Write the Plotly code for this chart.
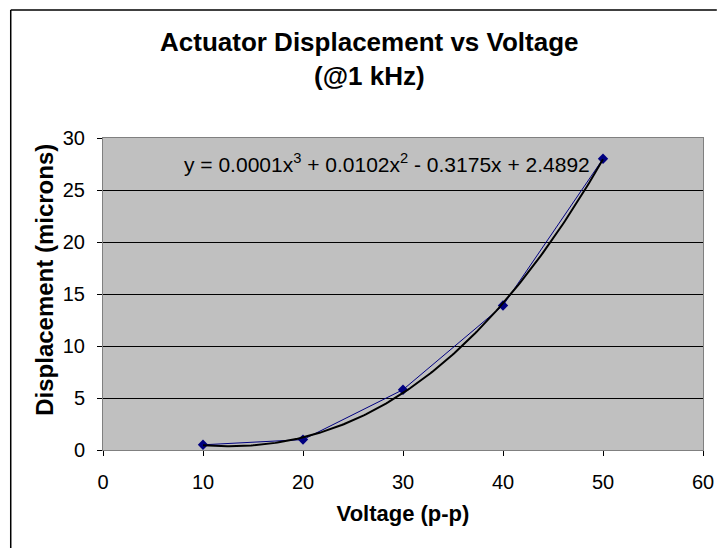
import numpy as np
import plotly.graph_objects as go

voltage = [10, 20, 30, 40, 50]
displacement = [0.5, 1.0, 5.8, 13.9, 28.0]
x_ticks = [0, 10, 20, 30, 40, 50, 60]
y_ticks = [0, 5, 10, 15, 20, 25, 30]
title_line1 = "Actuator Displacement vs Voltage"
title_line2 = "(@1 kHz)"
x_title = "Voltage (p-p)"
y_title = "Displacement (microns)"
equation = "y = 0.0001x<sup>3</sup> + 0.0102x<sup>2</sup> - 0.3175x + 2.4892"

# polynomial trendline (order 3) fitted to the data, as the spreadsheet does
coef = np.polyfit(voltage, displacement, 3)
tx = np.linspace(min(voltage), max(voltage), 200)
ty = np.polyval(coef, tx)

FONT = "Liberation Sans, Arial, Helvetica, sans-serif"
OFF = 8  # page body margin
W, H = 718, 540
L, T = 103 - OFF, 138 - OFF
R = W - (711 - OFF)
B = H - (450 - OFF)
pw, ph = W - L - R, H - T - B


def px(sx):
    return (sx - OFF - L) / pw


def py(sy):
    return (H - B - (sy - OFF)) / ph


fig = go.Figure()
fig.add_trace(go.Scatter(
    x=voltage, y=displacement, mode="lines+markers",
    line=dict(color="#000080", width=1),
    marker=dict(symbol="diamond", size=8, color="#000080"),
    showlegend=False, hoverinfo="skip"))
fig.add_trace(go.Scatter(
    x=tx, y=ty, mode="lines",
    line=dict(color="#000000", width=2),
    showlegend=False, hoverinfo="skip"))

fig.update_layout(
    width=W, height=H,
    margin=dict(l=L, r=R, t=T, b=B, pad=0),
    paper_bgcolor="white", plot_bgcolor="#C0C0C0",
    font=dict(family=FONT, color="black", size=20),
    xaxis=dict(range=[0, 60], tickvals=x_ticks, ticks="outside", ticklen=5,
               tickcolor="#000000", showline=True, linecolor="#808080", linewidth=1,
               mirror=True, showgrid=False, zeroline=False, ticklabelstandoff=9,
               tickfont=dict(size=20, family=FONT),
               title=dict(text="<b>" + x_title + "</b>", font=dict(size=22, family=FONT), standoff=13)),
    yaxis=dict(range=[0, 30], tickvals=y_ticks, ticks="outside", ticklen=5,
               tickcolor="#000000", showline=True, linecolor="#808080", linewidth=1,
               mirror=True, showgrid=True, gridcolor="#000000", gridwidth=1,
               zeroline=False, ticklabelstandoff=8, tickfont=dict(size=20, family=FONT)),
    annotations=[
        dict(text="<b>" + title_line1 + "</b>", xref="paper", yref="paper",
             x=px(373.5), y=py(42), xanchor="center", yanchor="middle",
             showarrow=False, font=dict(size=26, family=FONT)),
        dict(text="<b>" + title_line2 + "</b>", xref="paper", yref="paper",
             x=px(373.5), y=py(76), xanchor="center", yanchor="middle",
             showarrow=False, font=dict(size=26, family=FONT)),
        dict(text=equation, xref="paper", yref="paper",
             x=px(391), y=py(163), xanchor="center", yanchor="middle",
             showarrow=False, font=dict(size=21, family=FONT)),
        dict(text="<b>" + y_title + "</b>", xref="paper", yref="paper",
             x=px(43), y=py(280), xanchor="center", yanchor="middle", textangle=-90,
             showarrow=False, font=dict(size=24, family=FONT)),
    ],
    shapes=[
        dict(type="line", xref="paper", yref="paper",
             x0=px(9.5), y0=py(10), x1=px(9.5), y1=py(560),
             line=dict(color="black", width=1.5), layer="above"),
        dict(type="line", xref="paper", yref="paper",
             x0=px(9.5), y0=py(10), x1=px(725), y1=py(10),
             line=dict(color="black", width=1.5), layer="above"),
    ],
)

fig.write_html("out.html")
